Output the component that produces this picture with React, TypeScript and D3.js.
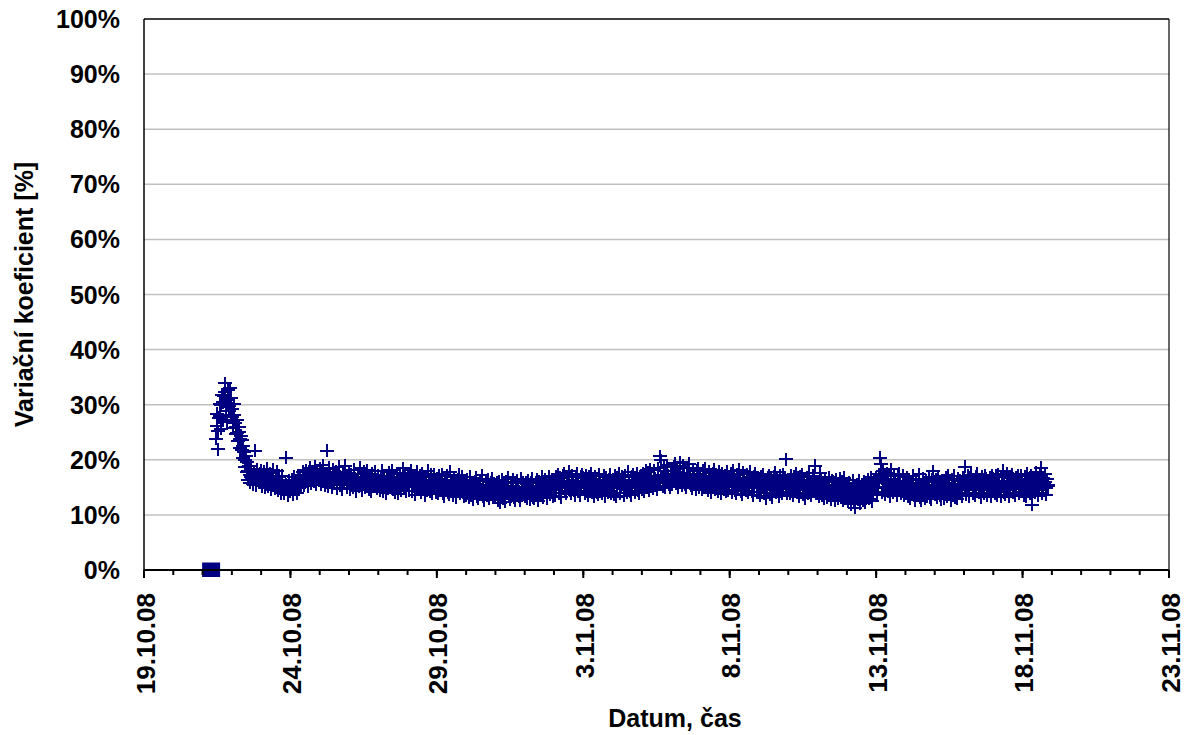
import React from "react";
import * as d3 from "d3";

// X axis domain (dates) and Y ticks
const xDomainStart = Date.UTC(2008, 9, 19);
const xDomainEnd = Date.UTC(2008, 10, 23);
const yTicks = [0, 10, 20, 30, 40, 50, 60, 70, 80, 90, 100];

// First measured sample: 21.10.08 11:00, samples every 30 minutes afterwards
const seriesStart = Date.UTC(2008, 9, 21, 11);
// Variační koeficient [%] — samples at full hours, one row per day
const cvValuesHour: number[] = [
  // 21.10 (from 11:00)
  23.8, 28.4, 21.9, 30.2, 25.6, 31.8, 27.3, 33.9, 29.5, 26.8, 32.6, 28.9, 31.2,
  // 22.10
  29.3, 25.8, 30.1, 24.6, 27.2, 23.4, 25.9, 22.1, 23.6, 20.4, 21.5, 18.7, 19.6, 16.4, 18.9, 15.8, 18.3, 15.6, 17.9, 21.6, 15.4, 18.2, 15.9, 17.6,
  // 23.10
  18.1, 15.2, 17.8, 14.9, 17.3, 18.4, 15.1, 17.6, 14.6, 16.9, 18.2, 14.8, 16.5, 17.9, 14.4, 16.8, 13.9, 17.1, 14.7, 13.8, 20.4, 15.3, 13.6, 16.2,
  // 24.10
  14.2, 16.4, 13.7, 16.9, 15.1, 13.9, 17.2, 14.8, 16.6, 15.0, 17.8, 15.4, 16.3, 18.1, 15.2, 17.4, 18.6, 15.7, 17.9, 16.0, 18.8, 15.6, 17.7, 16.4,
  // 25.10
  18.4, 15.6, 17.9, 19.0, 15.3, 17.4, 21.6, 15.1, 18.6, 16.2, 14.9, 18.3, 15.7, 17.8, 14.8, 17.1, 18.7, 15.4, 14.7, 17.6, 15.9, 18.9, 14.9, 16.8,
  // 26.10
  17.6, 14.7, 17.3, 15.0, 18.2, 15.5, 14.3, 17.4, 15.2, 18.6, 16.3, 14.5, 17.8, 14.9, 16.9, 18.1, 14.6, 16.4, 14.2, 17.5, 15.1, 17.9, 15.6, 14.8,
  // 27.10
  17.2, 14.5, 16.8, 18.0, 14.2, 17.1, 13.9, 16.6, 14.8, 17.7, 15.3, 18.1, 14.6, 16.9, 14.1, 17.4, 13.8, 16.2, 17.6, 14.4, 18.5, 15.0, 17.3, 14.3,
  // 28.10
  17.0, 14.4, 17.5, 18.1, 14.3, 16.7, 13.7, 16.4, 17.8, 14.6, 17.2, 14.0, 17.6, 14.8, 13.6, 16.9, 14.5, 18.0, 14.2, 17.3, 13.9, 16.2, 17.4, 14.1,
  // 29.10
  16.6, 13.8, 17.1, 14.5, 17.4, 13.9, 13.4, 16.3, 17.2, 14.1, 13.7, 17.8, 14.6, 13.5, 16.8, 14.2, 13.2, 16.5, 17.3, 13.8, 14.7, 16.9, 13.4, 16.1,
  // 30.10
  13.6, 16.4, 13.1, 16.9, 13.5, 15.8, 12.8, 16.1, 16.7, 13.3, 12.9, 16.3, 13.8, 17.2, 13.4, 12.7, 16.2, 13.6, 16.5, 12.9, 15.9, 16.6, 13.2, 15.7,
  // 31.10
  13.3, 15.9, 12.7, 16.1, 12.2, 16.4, 12.9, 15.7, 12.4, 16.0, 16.8, 13.4, 12.8, 15.8, 16.5, 13.1, 12.6, 15.9, 16.2, 13.3, 12.7, 16.6, 13.5, 15.9,
  // 1.11
  13.4, 15.8, 12.9, 16.2, 12.8, 15.9, 16.6, 13.2, 12.9, 15.7, 16.4, 12.6, 16.1, 13.5, 16.9, 13.1, 15.8, 16.5, 13.0, 15.6, 17.0, 13.7, 16.3, 13.3,
  // 2.11
  16.3, 13.5, 16.9, 17.4, 13.9, 16.7, 13.2, 17.1, 17.6, 14.3, 13.8, 16.8, 17.9, 14.4, 13.9, 17.2, 14.5, 13.6, 17.0, 17.5, 14.2, 13.6, 16.9, 17.3,
  // 3.11
  16.7, 13.9, 17.2, 14.3, 13.6, 16.9, 17.6, 14.0, 16.5, 13.3, 17.0, 14.1, 13.7, 17.4, 14.5, 13.8, 16.3, 17.1, 13.4, 16.8, 14.0, 16.4, 17.3, 13.9,
  // 4.11
  16.5, 13.7, 17.1, 13.3, 16.7, 17.5, 13.9, 16.2, 16.9, 13.5, 17.2, 14.5, 14.0, 17.8, 14.3, 13.6, 17.0, 17.3, 14.1, 16.8, 17.6, 14.4, 13.9, 17.1,
  // 5.11
  14.7, 17.5, 14.2, 18.0, 15.0, 17.7, 14.5, 18.3, 15.1, 14.8, 18.1, 15.3, 14.6, 18.5, 15.7, 20.6, 19.9, 15.2, 18.7, 14.9, 17.9, 19.0, 15.5, 15.0,
  // 6.11
  18.0, 15.6, 18.7, 19.4, 15.7, 18.4, 15.0, 19.6, 16.1, 15.4, 18.9, 15.6, 14.9, 18.6, 16.0, 19.3, 15.3, 14.8, 18.3, 15.5, 14.7, 18.0, 18.5, 15.0,
  // 7.11
  17.4, 14.6, 18.1, 14.9, 18.4, 15.1, 14.4, 17.8, 15.0, 14.0, 17.6, 18.2, 14.7, 17.3, 14.3, 17.9, 14.9, 13.8, 17.5, 14.6, 17.2, 14.2, 17.8, 14.5,
  // 8.11
  16.9, 17.5, 14.1, 18.0, 14.5, 13.8, 17.3, 14.7, 18.2, 14.3, 13.7, 17.7, 15.0, 14.4, 17.4, 14.0, 16.9, 17.8, 14.2, 13.6, 17.0, 17.6, 14.1, 16.7,
  // 9.11
  14.1, 13.5, 16.9, 17.4, 13.9, 16.5, 13.0, 16.8, 17.2, 13.7, 16.4, 13.2, 17.0, 17.7, 14.0, 16.6, 13.4, 17.1, 14.2, 13.8, 17.3, 16.7, 20.1, 13.9,
  // 10.11
  16.5, 13.8, 17.2, 14.2, 13.5, 17.0, 17.5, 14.0, 16.7, 13.3, 16.9, 17.3, 13.7, 16.4, 13.0, 16.8, 13.9, 17.6, 14.1, 13.6, 17.1, 16.5, 18.9, 13.8,
  // 11.11
  16.1, 13.3, 17.6, 16.3, 13.6, 12.9, 16.5, 13.8, 13.1, 16.8, 13.5, 12.8, 16.2, 16.0, 12.6, 16.4, 13.7, 13.0, 16.6, 13.2, 16.1, 12.7, 16.7, 13.4,
  // 12.11
  15.2, 12.4, 15.8, 11.9, 13.0, 16.3, 12.6, 11.3, 15.6, 12.8, 16.2, 12.0, 15.4, 12.7, 16.0, 12.2, 15.7, 16.5, 12.9, 15.3, 16.8, 12.5, 15.9, 16.4,
  // 13.11
  16.7, 13.9, 17.4, 20.4, 19.3, 14.1, 17.9, 13.7, 17.1, 17.6, 14.3, 13.4, 18.3, 14.8, 14.0, 17.2, 14.5, 13.6, 17.0, 17.5, 13.8, 14.2, 17.1, 13.5,
  // 14.11
  16.1, 16.8, 13.3, 16.5, 12.9, 13.8, 17.1, 13.5, 12.7, 16.3, 13.9, 17.4, 13.1, 12.6, 16.6, 13.7, 13.0, 16.2, 13.4, 16.9, 13.2, 12.8, 16.4, 17.9,
  // 15.11
  13.7, 16.5, 13.1, 17.0, 13.5, 12.8, 16.3, 16.1, 13.0, 16.7, 13.3, 17.2, 13.8, 12.7, 16.4, 13.6, 17.1, 13.2, 12.9, 16.6, 13.9, 16.2, 13.4, 16.8,
  // 16.11
  16.4, 18.7, 13.7, 17.1, 13.4, 16.7, 17.3, 13.9, 16.2, 13.5, 16.9, 17.5, 14.0, 16.5, 13.2, 17.0, 13.8, 17.2, 16.6, 13.6, 16.3, 16.8, 13.3, 17.1,
  // 17.11
  16.6, 13.9, 17.1, 13.6, 17.4, 14.2, 13.4, 16.9, 18.0, 14.1, 13.7, 17.6, 16.7, 13.3, 17.0, 17.3, 14.0, 16.5, 13.5, 16.8, 17.2, 13.8, 16.4, 17.1,
  // 18.11 (to 21:00)
  14.2, 13.6, 17.0, 13.3, 17.5, 16.6, 13.8, 17.2, 11.8, 16.8, 14.0, 17.7, 16.4, 13.5, 17.1, 18.6, 13.9, 16.7, 17.4, 13.7, 16.5, 15.2,
];
// Variační koeficient [%] — samples at half hours (hh:30), one row per day
const cvValuesHalf: number[] = [
  // 21.10 (from 11:30)
  26.1, 25.2, 27.6, 28.0, 29.9, 30.4, 31.5, 32.3, 28.1, 30.9, 29.7, 33.0, 27.9,
  // 22.10
  27.8, 28.2, 26.7, 26.0, 24.9, 25.1, 23.8, 24.4, 21.7, 22.5, 19.9, 20.6, 17.8, 17.9, 17.2, 16.9, 16.7, 17.1, 16.4, 17.0, 16.8, 16.2, 17.3, 16.6,
  // 23.10
  16.5, 16.8, 15.9, 16.2, 16.9, 15.7, 16.3, 16.0, 15.6, 16.4, 15.8, 16.1, 15.5, 15.9, 16.2, 15.3, 15.7, 15.0, 15.4, 14.9, 15.6, 15.1, 15.5, 14.8,
  // 24.10
  15.2, 14.9, 15.5, 15.1, 15.8, 15.4, 15.9, 16.2, 15.7, 16.3, 16.0, 16.6, 16.1, 16.4, 16.9, 16.5, 16.8, 17.2, 16.6, 17.0, 16.7, 17.3, 16.9, 17.1,
  // 25.10
  17.2, 16.6, 16.9, 17.4, 16.5, 16.8, 17.1, 16.3, 17.0, 16.7, 16.4, 17.2, 16.6, 16.9, 16.2, 16.8, 17.0, 16.4, 16.1, 16.7, 16.5, 17.1, 16.3, 16.6,
  // 26.10
  16.3, 15.7, 16.5, 15.9, 16.6, 16.1, 15.6, 16.4, 15.8, 16.7, 16.2, 15.5, 16.3, 15.9, 16.0, 16.5, 15.6, 16.2, 15.4, 16.1, 15.8, 16.4, 15.9, 15.7,
  // 27.10
  16.1, 15.5, 15.9, 16.3, 15.4, 16.0, 15.2, 15.8, 15.6, 16.2, 15.7, 16.4, 15.3, 15.9, 15.5, 16.1, 15.1, 15.7, 16.0, 15.4, 16.3, 15.6, 15.9, 15.3,
  // 28.10
  15.9, 15.4, 16.1, 16.3, 15.2, 15.8, 15.0, 15.6, 16.0, 15.5, 15.9, 15.1, 16.2, 15.6, 14.9, 15.8, 15.3, 16.1, 15.2, 15.7, 15.0, 15.5, 15.9, 15.3,
  // 29.10
  15.6, 14.9, 15.8, 15.1, 15.7, 14.8, 14.6, 15.4, 15.9, 15.0, 14.7, 15.6, 15.2, 14.8, 15.5, 15.1, 14.5, 15.3, 15.7, 14.9, 15.2, 15.6, 14.7, 15.3,
  // 30.10
  14.6, 15.2, 14.3, 15.4, 14.5, 14.9, 14.1, 15.0, 15.3, 14.4, 14.2, 15.1, 14.7, 15.5, 14.5, 14.0, 15.0, 14.6, 15.2, 14.2, 14.8, 15.1, 14.4, 14.9,
  // 31.10
  14.3, 14.8, 13.9, 14.9, 13.7, 15.0, 14.1, 14.6, 13.8, 14.7, 15.1, 14.2, 14.0, 14.7, 15.0, 14.3, 13.9, 14.8, 14.9, 14.2, 14.0, 15.0, 14.4, 14.7,
  // 1.11
  14.4, 14.9, 14.1, 15.0, 14.0, 14.8, 15.1, 14.3, 14.2, 14.7, 15.0, 14.0, 14.9, 14.5, 15.2, 14.3, 14.8, 15.1, 14.2, 14.7, 15.3, 14.6, 15.0, 14.5,
  // 2.11
  15.2, 14.9, 15.6, 15.9, 15.0, 15.5, 14.8, 15.8, 16.0, 15.1, 14.9, 15.7, 16.1, 15.3, 15.0, 15.8, 15.4, 14.8, 15.7, 15.9, 15.2, 14.9, 15.6, 15.8,
  // 3.11
  15.5, 14.9, 15.8, 15.1, 14.8, 15.6, 15.9, 15.0, 15.4, 14.7, 15.7, 15.2, 14.9, 15.8, 15.3, 15.0, 15.5, 15.9, 14.8, 15.6, 15.1, 15.4, 15.8, 15.0,
  // 4.11
  15.6, 14.9, 15.9, 14.8, 15.7, 16.0, 15.1, 15.5, 15.8, 14.9, 16.0, 15.3, 15.2, 16.2, 15.4, 15.0, 15.8, 16.1, 15.3, 15.7, 16.2, 15.5, 15.2, 15.9,
  // 5.11
  15.8, 16.4, 15.6, 16.7, 16.0, 16.5, 15.9, 16.8, 16.1, 15.9, 16.6, 16.2, 15.8, 16.9, 16.3, 17.0, 16.8, 16.1, 16.9, 16.0, 16.6, 17.1, 16.4, 16.2,
  // 6.11
  16.9, 16.3, 17.1, 17.3, 16.5, 17.0, 16.2, 17.4, 16.7, 16.4, 17.2, 16.6, 16.1, 17.0, 16.8, 17.3, 16.4, 16.0, 16.9, 16.5, 16.0, 16.8, 17.0, 16.2,
  // 7.11
  16.5, 15.7, 16.8, 15.9, 16.9, 16.0, 15.5, 16.6, 15.8, 15.3, 16.4, 16.7, 15.7, 16.3, 15.4, 16.5, 15.8, 15.2, 16.3, 15.6, 16.1, 15.4, 16.5, 15.6,
  // 8.11
  16.1, 16.4, 15.3, 16.6, 15.5, 15.1, 16.2, 15.6, 16.7, 15.4, 15.0, 16.3, 15.8, 15.4, 16.2, 15.2, 15.9, 16.4, 15.3, 14.9, 16.0, 16.3, 15.2, 15.8,
  // 9.11
  15.2, 14.8, 15.8, 16.0, 14.9, 15.6, 14.5, 15.7, 15.9, 14.8, 15.5, 14.6, 15.8, 16.1, 15.0, 15.6, 14.7, 15.9, 15.2, 14.9, 16.0, 15.7, 15.4, 15.0,
  // 10.11
  15.6, 14.8, 15.9, 15.1, 14.7, 15.8, 16.0, 15.0, 15.6, 14.6, 15.7, 15.9, 14.8, 15.4, 14.5, 15.6, 14.9, 16.0, 15.1, 14.7, 15.8, 15.5, 15.9, 14.9,
  // 11.11
  15.2, 14.3, 15.8, 15.3, 14.5, 14.0, 15.4, 14.6, 14.2, 15.5, 14.4, 14.0, 15.2, 15.1, 13.9, 15.3, 14.6, 14.1, 15.4, 14.3, 15.1, 13.9, 15.5, 14.4,
  // 12.11
  14.5, 13.4, 14.8, 13.1, 13.8, 15.0, 13.5, 12.9, 14.6, 13.6, 14.9, 13.2, 14.4, 13.5, 14.7, 13.3, 14.6, 15.0, 13.7, 14.3, 15.1, 13.6, 14.8, 14.9,
  // 13.11
  15.8, 14.9, 16.2, 17.0, 16.6, 15.0, 16.4, 14.8, 16.0, 16.3, 15.1, 14.6, 16.5, 15.3, 14.9, 15.9, 15.2, 14.7, 15.8, 16.1, 14.9, 15.1, 15.9, 14.8,
  // 14.11
  15.3, 15.6, 14.4, 15.4, 14.1, 14.6, 15.7, 14.3, 14.0, 15.2, 14.7, 15.8, 14.2, 13.9, 15.4, 14.5, 14.1, 15.1, 14.4, 15.5, 14.3, 14.0, 15.2, 15.9,
  // 15.11
  14.6, 15.4, 14.2, 15.6, 14.5, 14.0, 15.3, 15.1, 14.1, 15.5, 14.4, 15.7, 14.7, 13.9, 15.2, 14.6, 15.6, 14.3, 14.0, 15.4, 14.8, 15.2, 14.5, 15.5,
  // 16.11
  15.4, 16.2, 14.8, 15.8, 14.6, 15.5, 15.9, 14.9, 15.3, 14.7, 15.7, 16.0, 14.9, 15.5, 14.5, 15.8, 14.8, 15.9, 15.6, 14.7, 15.4, 15.7, 14.6, 15.9,
  // 17.11
  15.6, 14.9, 15.9, 14.7, 16.0, 15.1, 14.6, 15.8, 16.2, 15.0, 14.8, 15.9, 15.6, 14.5, 15.8, 16.0, 15.0, 15.5, 14.7, 15.7, 15.9, 14.8, 15.4, 15.8,
  // 18.11 (to 20:30)
  15.0, 14.7, 15.8, 14.5, 16.0, 15.6, 14.8, 15.9, 14.2, 15.7, 15.0, 16.1, 15.5, 14.6, 15.8, 16.3, 14.9, 15.6, 15.9, 14.8, 15.5,
];

// Second series: single square marker
const squareTimes = [Date.UTC(2008, 9, 21, 7)];
const squareValues = [0];

const W = 1184;
const H = 735;
const M = { left: 144, right: 1169, top: 19, bottom: 570 };
const NAVY = "#000080";
const FONT = "'Liberation Sans', Arial, sans-serif";

export default function App() {
  const x = d3.scaleUtc().domain([xDomainStart, xDomainEnd]).range([M.left, M.right]);
  const y = d3.scaleLinear().domain([0, 100]).range([M.bottom, M.top]);
  const majors = d3.range(0, 36, 5).map((k) => d3.utcDay.offset(new Date(xDomainStart), k));
  const minors = d3.range(0, 36).map((k) => d3.utcDay.offset(new Date(xDomainStart), k));
  const fmt = d3.utcFormat("%-d.%m.%y");

  const start = new Date(seriesStart);
  const pts = [
    ...cvValuesHour.map((v, i) => ({ t: d3.utcHour.offset(start, i), v })),
    ...cvValuesHalf.map((v, i) => ({ t: d3.utcMinute.offset(start, i * 60 + 30), v })),
  ];
  const hw = 7;
  const hh = 6.5;
  const crossPath = pts
    .map((p) => {
      const px = x(p.t);
      const py = y(p.v);
      return `M${px - hw},${py}H${px + hw}M${px},${py - hh}V${py + hh}`;
    })
    .join("");

  return (
    <svg width={W} height={H} style={{ position: "absolute", left: 0, top: 0, background: "#fff" }}>
      <rect x={0} y={0} width={W} height={H} fill="#fff" />
      {/* gridlines */}
      {yTicks.slice(1, -1).map((t) => (
        <line key={t} x1={M.left} x2={M.right} y1={y(t)} y2={y(t)} stroke="#c0c0c0" strokeWidth={1.5} />
      ))}
      {/* plot border */}
      <line x1={M.left} x2={M.right} y1={M.top} y2={M.top} stroke="#000" strokeWidth={1.5} />
      <line x1={M.right} x2={M.right} y1={M.top} y2={M.bottom} stroke="#000" strokeWidth={1.2} />
      <line x1={M.left} x2={M.left} y1={M.top} y2={M.bottom} stroke="#000" strokeWidth={1.5} />
      {/* y tick labels */}
      {yTicks.map((t) => (
        <text key={t} x={120} y={y(t) + 9} textAnchor="end" fontFamily={FONT} fontWeight="bold" fontSize={25} fill="#000">
          {t}%
        </text>
      ))}
      {/* data crosses */}
      <path d={crossPath} stroke={NAVY} strokeWidth={2} fill="none" shapeRendering="crispEdges" />
      {/* square series */}
      {squareTimes.map((t, i) => (
        <rect key={i} x={x(t) - 9} y={y(squareValues[i]) - 7.5} width={18} height={14.5} fill={NAVY} />
      ))}
      {/* x axis */}
      <line x1={M.left} x2={M.right} y1={M.bottom} y2={M.bottom} stroke="#000" strokeWidth={2} />
      {minors.map((d, i) => (
        <line key={"mi" + i} x1={x(d)} x2={x(d)} y1={M.bottom} y2={M.bottom + 5} stroke="#000" strokeWidth={2} />
      ))}
      {majors.map((d, i) => (
        <line key={"ma" + i} x1={x(d)} x2={x(d)} y1={M.bottom} y2={M.bottom + 8} stroke="#000" strokeWidth={2} />
      ))}
      {majors.map((d, i) => (
        <text
          key={"lb" + i}
          transform={`translate(${x(d) + 10.5},593) rotate(-90)`}
          textAnchor="end"
          fontFamily={FONT}
          fontWeight="bold"
          fontSize={26}
          fill="#000"
        >
          {fmt(d)}
        </text>
      ))}
      {/* axis titles */}
      <text x={675} y={727} textAnchor="middle" fontFamily={FONT} fontWeight="bold" fontSize={25} fill="#000">
        Datum, čas
      </text>
      <text
        transform={`translate(33,${(M.top + M.bottom) / 2}) rotate(-90)`}
        textAnchor="middle"
        fontFamily={FONT}
        fontWeight="bold"
        fontSize={25}
        fill="#000"
      >
        Variační koeficient [%]
      </text>
    </svg>
  );
}
